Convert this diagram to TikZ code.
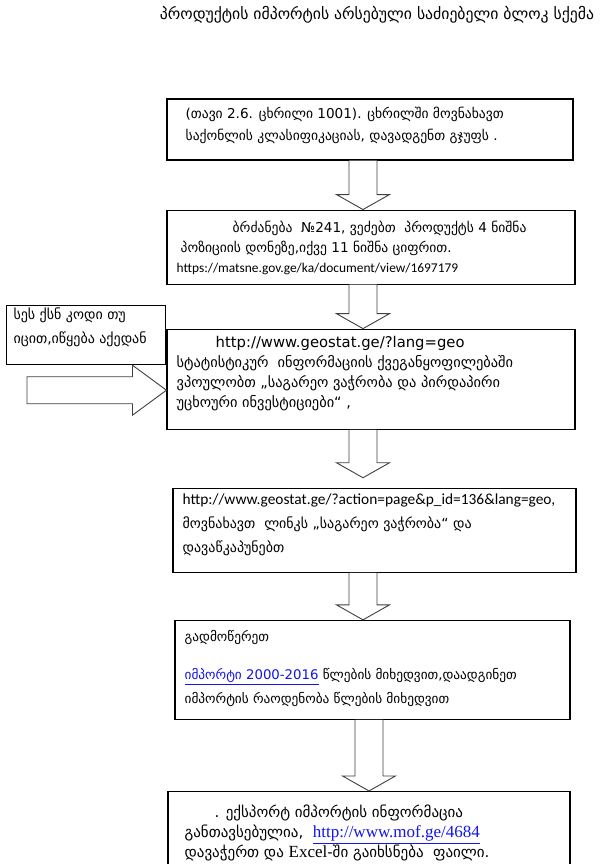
\documentclass[tikz,border=0pt]{standalone}
\usepackage{fontspec}
\setmainfont{DejaVu Sans}
\newfontfamily\urlfont{Carlito}
\newfontfamily\serfont{Liberation Serif}
\usepackage{tikz}
\usetikzlibrary{positioning,calc}
\definecolor{linkblue}{RGB}{20,20,235}
\tikzset{
    %Define style for boxes
    stepbox/.style={
           rectangle,
           draw=black, line width=1.1pt,
           fill=white,
           inner sep=0pt,
           },
    %Define style for the text in the boxes
    boxtext/.style={
           anchor=north west,
           inner sep=0pt,
           align=left,
           font=\fontsize{13.6}{22}\selectfont,
           },
    % Define style for the hollow arrows
    fatarrow/.style={
           draw=black!75,
           line width=0.9pt,
           fill=white,
           line join=miter,},
}
% hollow arrow downwards: from, to, x of the middle, gap above the box
\newcommand{\fatdown}[4]{%
  \draw[fatarrow] let \p1=(#1.south), \p2=(#2.north) in
    (#3pt-14pt,\y1) -- (#3pt-14pt,\y2+#4pt+15pt) -- (#3pt-26.5pt,\y2+#4pt+15pt)
    -- (#3pt,\y2+#4pt) -- (#3pt+26.5pt,\y2+#4pt+15pt) -- (#3pt+14pt,\y2+#4pt+15pt)
    -- (#3pt+14pt,\y1);}
\begin{document}
\begin{tikzpicture}[x=1pt,y=-1pt,node distance=1cm]
\useasboundingbox (0,0) rectangle (600,864);
\clip (0,0) rectangle (600,864);

 %title
\node[font=\fontsize{15.7}{18}\selectfont] (title) at (377,15)
    {პროდუქტის იმპორტის არსებული საძიებელი ბლოკ სქემა};

 %boxes
\node[stepbox, minimum width=406pt, minimum height=61pt] (b1) at (370,129.5) {};
\node[stepbox, minimum width=408pt, minimum height=74pt, below=49pt of b1, xshift=1pt] (b2) {};
\node[stepbox, minimum width=408pt, minimum height=100pt, below=44pt of b2] (b3) {};
\node[stepbox, minimum width=159pt, minimum height=59pt, anchor=north east] (side)
    at ([yshift=24pt]b3.north west) {};
\node[stepbox, minimum width=403pt, minimum height=84pt, below=58pt of b3, xshift=3.5pt] (b4) {};
\node[stepbox, minimum width=395pt, minimum height=99pt, below=47pt of b4, xshift=-2pt] (b5) {};
\node[stepbox, minimum width=402pt, minimum height=100pt, below=71pt of b5, xshift=-3.5pt] (b6) {};

 %arrows
\fatdown{b1}{b2}{363}{0}
\fatdown{b2}{b3}{363}{0}
\fatdown{b3}{b4}{363}{10}
\fatdown{b4}{b5}{363}{0}
\fatdown{b5}{b6}{369}{0}
\draw[fatarrow] let \p1=(b3.west) in
    (27pt,\y1+2.5pt) -- (\x1-34pt,\y1+2.5pt) -- (\x1-34pt,\y1+14pt) -- (\x1,\y1-11pt)
    -- (\x1-34pt,\y1-36pt) -- (\x1-34pt,\y1-24.5pt) -- (27pt,\y1-24.5pt) -- cycle;

 %texts
\node[boxtext, below right=8pt and 19pt of b1.north west] (t1)
    {(თავი 2.6. ცხრილი 1001). ცხრილში მოვნახავთ\\
     საქონლის კლასიფიკაციას, დავადგენთ გჯუფს .};
\node[boxtext, below right=11.5pt and 10pt of b2.north west, font=\fontsize{13.6}{20}\selectfont] (t2)
    {\hspace*{56pt}ბრძანება \ №241, ვეძებთ \ პროდუქტს 4 ნიშნა\\
     \hspace*{4pt}პოზიციის დონეზე,იქვე 11 ნიშნა ციფრით.\\
     {\urlfont\fontsize{13.4}{20}\selectfont https://matsne.gov.ge/ka/document/view/1697179}};
\node[boxtext, below right=7pt and 10pt of b3.north west, font=\fontsize{14.4}{20}\selectfont] (t3)
    {\hspace*{39pt}{\fontsize{14.8}{20}\selectfont http://www.geostat.ge/?lang=geo}\\
     სტატისტიკურ \ ინფორმაციის ქვეგანყოფილებაში\\
     ვპოულობთ „საგარეო ვაჭრობა და პირდაპირი\\
     უცხოური ინვესტიციები“ ,};
\node[boxtext, below right=3pt and 7pt of side.north west, font=\fontsize{14}{24}\selectfont] (ts)
    {სეს ქსნ კოდი თუ\\
     იცით,იწყება აქედან};
\node[boxtext, below right=6pt and 10pt of b4.north west, font=\fontsize{14}{24}\selectfont] (t4)
    {{\urlfont\fontsize{15.4}{24}\selectfont http://www.geostat.ge/?action=page\&p\_id=136\&lang=geo,}\\
     მოვნახავთ \ ლინკს „საგარეო ვაჭრობა“ და\\
     დავაწკაპუნებთ};
\node[boxtext, below right=10pt and 10pt of b5.north west, font=\fontsize{13.3}{24}\selectfont] (t5)
    {გადმოწერეთ\\[14pt]
     \textcolor{linkblue}{\underline{იმპორტი 2000-2016}} წლების მიხედვით,დაადგინეთ\\
     იმპორტის რაოდენობა წლების მიხედვით};
\node[boxtext, below right=14pt and 17pt of b6.north west, font=\fontsize{15}{20}\selectfont] (t6)
    {\hspace*{30pt}. ექსპორტ იმპორტის ინფორმაცია\\
     განთავსებულია, \ \textcolor{linkblue}{\underline{\serfont\fontsize{17}{20}\selectfont http://www.mof.ge/4684}}\\
     დავაჭერთ და {\serfont\fontsize{17}{20}\selectfont Excel}-ში გაიხსნება \ ფაილი.};

\end{tikzpicture}
\end{document}
